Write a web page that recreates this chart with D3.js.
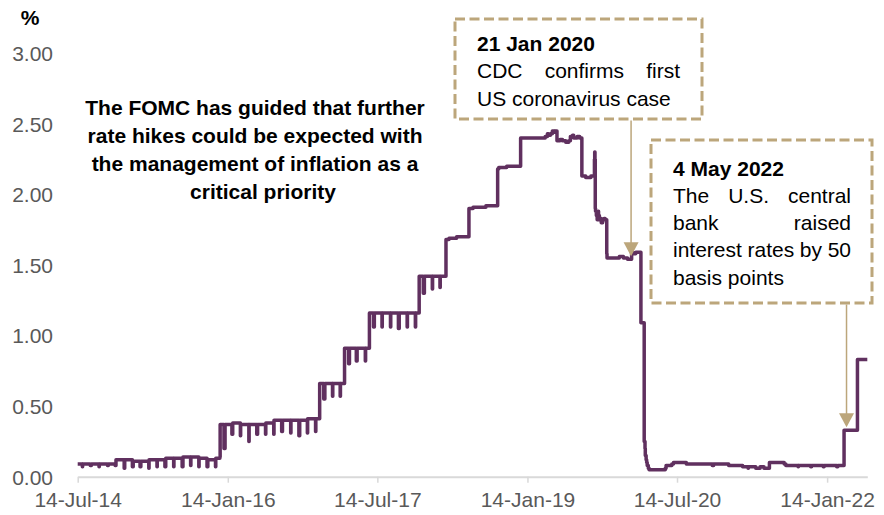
<!DOCTYPE html>
<html><head><meta charset="utf-8">
<script src="https://cdn.jsdelivr.net/npm/d3@7"></script>
<style>
html,body{margin:0;padding:0;background:#fff;}
svg{display:block;font-family:"Liberation Sans",Arial,sans-serif;}
</style></head><body>
<svg id="chart" width="884" height="515"></svg>
<script>
// ---- DATA (effective federal funds rate, %, step series: value holds from date until next date) ----
const rate2014to2015 = [
  ["2014-07-14",0.09],["2014-07-31",0.07],["2014-08-01",0.09],["2014-08-29",0.08],["2014-09-02",0.09],
  ["2014-09-30",0.07],["2014-10-01",0.09],["2014-10-31",0.08],["2014-11-03",0.09],["2014-11-28",0.08],
  ["2014-12-01",0.12],["2014-12-31",0.06],["2015-01-02",0.12],["2015-01-30",0.07],["2015-02-02",0.11],
  ["2015-02-27",0.07],["2015-03-02",0.11],["2015-03-31",0.06],["2015-04-01",0.12],["2015-04-30",0.07],
  ["2015-05-01",0.12],["2015-05-29",0.07],["2015-06-01",0.13],["2015-06-30",0.07],["2015-07-01",0.13],
  ["2015-07-31",0.07],["2015-08-03",0.14],["2015-08-31",0.08],["2015-09-01",0.14],["2015-09-30",0.07],
  ["2015-10-01",0.13],["2015-10-30",0.07],["2015-11-02",0.12],["2015-11-30",0.07],["2015-12-01",0.13],
  ["2015-12-16",0.14]
];
const rate2016 = [
  ["2015-12-17",0.37],["2015-12-31",0.20],["2016-01-04",0.37],["2016-01-15",0.37],["2016-01-29",0.30],
  ["2016-02-01",0.38],["2016-02-29",0.29],["2016-03-01",0.37],["2016-03-31",0.25],["2016-04-01",0.37],
  ["2016-04-29",0.30],["2016-05-02",0.37],["2016-05-31",0.30],["2016-06-01",0.38],["2016-06-30",0.30],
  ["2016-07-01",0.40],["2016-07-29",0.32],["2016-08-01",0.40],["2016-08-31",0.31],["2016-09-01",0.40],
  ["2016-09-30",0.29],["2016-10-03",0.40],["2016-10-31",0.31],["2016-11-01",0.41],["2016-11-30",0.32],
  ["2016-12-01",0.41]
];
const rate2017to2018 = [
  ["2016-12-15",0.66],["2016-12-30",0.55],["2017-01-03",0.66],["2017-01-31",0.57],["2017-02-01",0.66],
  ["2017-02-28",0.57],["2017-03-01",0.66],["2017-03-16",0.91],["2017-03-31",0.80],["2017-04-03",0.91],
  ["2017-04-28",0.82],["2017-05-01",0.91],["2017-05-31",0.82],["2017-06-01",0.91],["2017-06-15",1.16],
  ["2017-06-30",1.06],["2017-07-03",1.16],["2017-07-31",1.06],["2017-08-01",1.16],["2017-08-31",1.06],
  ["2017-09-01",1.16],["2017-09-29",1.05],["2017-10-02",1.16],["2017-10-31",1.06],["2017-11-01",1.16],
  ["2017-11-30",1.06],["2017-12-01",1.16],["2017-12-14",1.42],["2017-12-29",1.30],["2018-01-02",1.42],
  ["2018-01-31",1.33],["2018-02-01",1.42],["2018-02-28",1.34],["2018-03-01",1.42],
  ["2018-03-22",1.68],["2018-04-02",1.69],["2018-04-30",1.70],["2018-05-15",1.70],["2018-06-01",1.70],
  ["2018-06-14",1.90],["2018-06-29",1.91],["2018-07-16",1.91],["2018-08-01",1.91],["2018-08-15",1.92],
  ["2018-09-04",1.92],["2018-09-27",2.18],["2018-10-01",2.19],["2018-10-30",2.20],["2018-11-20",2.20]
];
const rate2019 = [
  ["2018-12-20",2.40],["2019-01-02",2.40],["2019-02-01",2.40],["2019-03-01",2.40],["2019-03-20",2.41],
  ["2019-03-28",2.43],["2019-04-01",2.42],["2019-04-08",2.43],["2019-04-15",2.45],["2019-04-22",2.44],
  ["2019-04-26",2.45],["2019-05-02",2.38],["2019-05-13",2.39],["2019-05-22",2.38],["2019-06-03",2.37],
  ["2019-06-14",2.38],["2019-06-20",2.41],["2019-06-28",2.42],["2019-07-02",2.40],["2019-07-15",2.41],
  ["2019-07-24",2.40],["2019-08-01",2.13],["2019-08-15",2.12],["2019-09-03",2.13],["2019-09-16",2.25],
  ["2019-09-17",2.30],["2019-09-18",2.25],["2019-09-19",1.90],["2019-09-20",1.88],["2019-09-23",1.85],
  ["2019-09-26",1.82],["2019-09-30",1.88],["2019-10-01",1.85],["2019-10-04",1.82],["2019-10-09",1.83],
  ["2019-10-11",1.80],["2019-10-16",1.82],["2019-10-21",1.83],["2019-10-25",1.82],["2019-10-31",1.58],
  ["2019-11-01",1.55],["2019-11-15",1.55],["2019-12-02",1.55],["2019-12-16",1.56],["2019-12-31",1.55],
  ["2020-01-02",1.55],["2020-01-15",1.54],["2020-01-30",1.59],["2020-02-03",1.58],["2020-02-14",1.59],
  ["2020-03-04",1.09]
];
const rate2020to2022 = [
  ["2020-03-16",0.25],["2020-03-19",0.20],["2020-03-20",0.15],["2020-03-23",0.12],["2020-03-25",0.10],
  ["2020-03-27",0.08],["2020-03-31",0.06],["2020-04-03",0.05],["2020-04-20",0.05],["2020-05-04",0.05],
  ["2020-05-19",0.05],["2020-06-01",0.06],["2020-06-04",0.08],["2020-06-18",0.08],["2020-06-25",0.09],
  ["2020-07-01",0.10],["2020-07-16",0.10],["2020-08-03",0.10],["2020-08-17",0.09],["2020-09-01",0.09],
  ["2020-09-30",0.09],["2020-10-01",0.09],["2020-11-02",0.09],["2020-11-20",0.08],["2020-11-25",0.09],
  ["2020-12-31",0.09],["2021-01-04",0.09],["2021-01-19",0.08],["2021-02-12",0.08],["2021-02-26",0.08],
  ["2021-03-11",0.07],["2021-03-31",0.06],["2021-04-01",0.07],["2021-04-16",0.07],["2021-04-28",0.06],
  ["2021-05-05",0.06],["2021-05-14",0.07],["2021-05-28",0.06],["2021-06-17",0.10],["2021-07-01",0.10],
  ["2021-08-10",0.09],["2021-08-16",0.08],["2021-09-01",0.08],["2021-09-30",0.07],["2021-10-01",0.08],
  ["2021-11-01",0.08],["2021-11-15",0.07],["2021-11-18",0.08],["2021-12-01",0.08],["2021-12-31",0.07],
  ["2022-01-03",0.08],["2022-01-19",0.08],["2022-02-01",0.08],["2022-02-18",0.07],["2022-02-22",0.08],
  ["2022-03-17",0.33],["2022-04-01",0.33],["2022-05-05",0.83],["2022-06-10",0.83]
];

const yTickValues = [0, 0.5, 1.0, 1.5, 2.0, 2.5, 3.0];
const xTickDates = ["2014-07-14","2016-01-14","2017-07-14","2019-01-14","2020-07-14","2022-01-14"];
const unitLabel = "%";

const fomcNote = ["The FOMC has guided that further","rate hikes could be expected with","the management of inflation as a","critical priority"];
const covidTitle = "21 Jan 2020";
const covidLines = ["CDC confirms first","US coronavirus case"];
const covidArrowDate = "2020-01-28";
const hikeTitle = "4 May 2022";
const hikeLines = ["The U.S. central","bank raised","interest rates by 50","basis points"];
const hikeArrowDate = "2022-03-26";

// ---- DRAWING ----
const parse = d3.timeParse("%Y-%m-%d");
const series = [...rate2014to2015, ...rate2016, ...rate2017to2018, ...rate2019, ...rate2020to2022]
  .map(([d, v]) => ({date: parse(d), value: v}));

const svg = d3.select("#chart");
svg.append("rect").attr("width", 884).attr("height", 515).attr("fill", "#fff");

const x = d3.scaleTime()
  .domain(d3.extent(series, d => d.date))
  .range([77.7, 867.3]);
const y = d3.scaleLinear().domain([0, 3]).range([476.7, 53.3]);

const labelColor = "#595959";
const lineColor = "#60305f";
const tan = "#bca67b";

// X axis
const xAxis = d3.axisBottom(x)
  .tickValues(xTickDates.map(parse))
  .tickFormat(d3.timeFormat("%d-%b-%y"))
  .tickSize(6).tickSizeOuter(0).tickPadding(6);
const gx = svg.append("g").attr("transform", `translate(0,${y(0)})`).call(xAxis);
gx.select(".domain").attr("stroke", "#d9d9d9").attr("stroke-width", 2);
gx.selectAll(".tick line").attr("stroke", "#d9d9d9").attr("stroke-width", 1.5);
gx.selectAll(".tick text").attr("fill", labelColor).attr("font-size", 21)
  .attr("font-family", '"Liberation Sans", Arial, sans-serif').attr("dy", "0.71em").attr("y", 15);

// Y axis (labels only)
const yAxis = d3.axisLeft(y).tickValues(yTickValues).tickFormat(d3.format(".2f"))
  .tickSize(0).tickPadding(0);
const gy = svg.append("g").attr("transform", "translate(53,0)").call(yAxis);
gy.select(".domain").remove();
gy.selectAll(".tick text").attr("fill", labelColor).attr("font-size", 21)
  .attr("font-family", '"Liberation Sans", Arial, sans-serif').attr("dy", "0.35em");

svg.append("text").attr("x", 20.7).attr("y", 25).attr("font-size", 21).attr("font-weight", "bold")
  .attr("fill", "#000").text(unitLabel);

// Line
const line = d3.line().x(d => x(d.date)).y(d => y(d.value)).curve(d3.curveStepAfter);
svg.append("path").datum(series).attr("d", line).attr("fill", "none")
  .attr("stroke", lineColor).attr("stroke-width", 3.5).attr("stroke-linejoin", "round");

// FOMC note
const fomcX = [255, 255, 255, 263];
fomcNote.forEach((t, i) => {
  svg.append("text").attr("x", fomcX[i]).attr("y", 115.2 + i * 28).attr("text-anchor", "middle")
    .attr("font-size", 21).attr("font-weight", "bold").attr("fill", "#000").text(t);
});

function textLine(parent, str, x0, yb, width, justify, bold) {
  const t = parent.append("text").attr("y", yb).attr("font-size", 21).attr("fill", "#000")
    .attr("font-weight", bold ? "bold" : "normal");
  const words = str.split(" ");
  if (!justify || words.length < 2) { t.attr("x", x0).text(str); return; }
  const spans = words.map(w => t.append("tspan").text(w));
  const widths = spans.map(s => s.node().getComputedTextLength());
  const gap = (width - d3.sum(widths)) / (words.length - 1);
  let cx = x0;
  spans.forEach((s, i) => { s.attr("x", cx); cx += widths[i] + gap; });
}

function box(bx, by, bw, bh) {
  svg.append("rect").attr("x", bx).attr("y", by).attr("width", bw).attr("height", bh)
    .attr("fill", "#fff").attr("stroke", tan).attr("stroke-width", 3).attr("stroke-dasharray", "10,4.5");
}

function arrow(ax, y1, tipY) {
  svg.append("line").attr("x1", ax).attr("x2", ax).attr("y1", y1).attr("y2", tipY - 12)
    .attr("stroke", tan).attr("stroke-width", 1.5);
  svg.append("path").attr("d", `M${ax - 7.5},${tipY - 14}L${ax + 7.5},${tipY - 14}L${ax},${tipY}Z`)
    .attr("fill", tan);
}

function valueAt(dateStr) {
  const dt = parse(dateStr);
  let v = series[0].value;
  for (const p of series) { if (p.date <= dt) v = p.value; }
  return v;
}

// Covid box
box(455, 19, 247, 100);
textLine(svg, covidTitle, 477, 50.7, 203, false, true);
covidLines.forEach((s, i) => textLine(svg, s, 477, 78.3 + i * 27.7, 203, i < covidLines.length - 1, false));
const a1x = x(parse(covidArrowDate));
arrow(a1x, 120.5, y(valueAt(covidArrowDate)) - 3);

// Hike box
box(651, 140, 221, 163);
textLine(svg, hikeTitle, 673, 175.5, 178, false, true);
hikeLines.forEach((s, i) => textLine(svg, s, 673, 203 + i * 27.2, 178, i < hikeLines.length - 1, false));
const a2x = x(parse(hikeArrowDate));
arrow(a2x, 304.5, y(valueAt(hikeArrowDate)) - 3);
</script></body></html>
